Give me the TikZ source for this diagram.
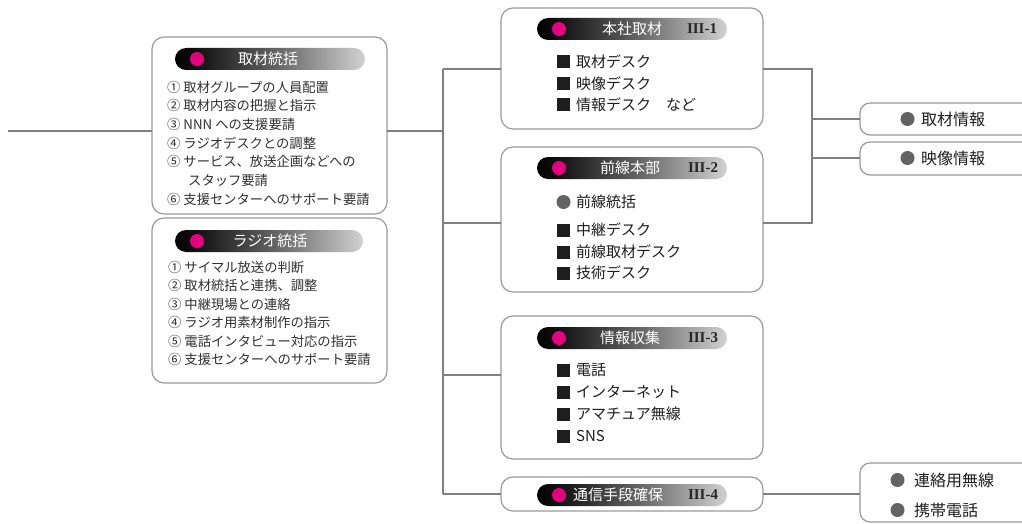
\documentclass[tikz,border=0pt]{standalone}
\usepackage{fontspec}
\newfontfamily\jp{Noto Sans CJK JP}
\newfontfamily\rmser{Liberation Serif}
\definecolor{pinkdot}{HTML}{E4007F}
\definecolor{linegray}{HTML}{808080}
\definecolor{boxgray}{HTML}{9A9A9A}
\definecolor{dotgray}{HTML}{636363}
\definecolor{sqblack}{HTML}{1E1E1E}
\definecolor{txt}{HTML}{303030}
\pgfdeclarehorizontalshading{hdrshade}{100bp}{color(0bp)=(black);color(25bp)=(black);color(33bp)=(black!90);color(52bp)=(black!60);color(75bp)=(black!18);color(100bp)=(black!18)}
\tikzset{
  conn/.style={draw=linegray, line width=2.4pt},
  panel/.style={draw=boxgray, line width=1.2pt, fill=white, rounded corners=12pt, rectangle, anchor=north west, inner sep=0pt, outer sep=0pt},
  smallpanel/.style={panel, rounded corners=10pt},
  hdr/.style={rectangle, rounded corners=11pt, shade, shading=hdrshade, minimum width=190pt, minimum height=22pt, inner sep=0pt},
  pdot/.style={circle, fill=pinkdot, minimum size=14pt, inner sep=0pt},
  hdrtxt/.style={text=white, font=\jp\fontsize{15}{17}\selectfont, inner sep=0pt},
  hdrnum/.style={text=black!85, font=\rmser\bfseries\fontsize{15}{17}\selectfont, inner sep=0pt},
  itemA/.style={anchor=west, text=txt, font=\jp\fontsize{13.3}{15}\selectfont, inner sep=0pt},
  itemB/.style={anchor=west, text=sqblack, font=\jp\fontsize{15}{17}\selectfont, inner sep=0pt},
  itemC/.style={anchor=west, text=sqblack, font=\jp\fontsize{16}{18}\selectfont, inner sep=0pt},
  sq/.style={rectangle, fill=sqblack, minimum size=13pt, inner sep=0pt},
  gdot/.style={circle, fill=dotgray, minimum size=14pt, inner sep=0pt}
}
\begin{document}
\begin{tikzpicture}[x=1pt,y=-1pt]
\useasboundingbox (0,0) rectangle (1022,524);
\clip (0,0) rectangle (1022,524);
% panels
\node[panel, minimum width=235pt, minimum height=177pt] (b1) at (152,37) {};
\node[panel, minimum width=235pt, minimum height=165pt] (b2) at (152,218) {};
\node[panel, minimum width=262pt, minimum height=121pt] (c1) at (501,8) {};
\node[panel, minimum width=262pt, minimum height=145pt] (c2) at (501,147) {};
\node[panel, minimum width=262pt, minimum height=143pt] (c3) at (501,316) {};
\node[panel, minimum width=262pt, minimum height=34pt] (c4) at (501,477) {};
\node[smallpanel, minimum width=200pt, minimum height=32pt] (r1) at (860,103) {};
\node[smallpanel, minimum width=200pt, minimum height=33pt] (r2) at (860,142) {};
\node[smallpanel, minimum width=200pt, minimum height=59pt] (r3) at (860,463) {};
% connectors
\coordinate (in) at (8,131);
\coordinate (jA) at (443,131);
\coordinate (jT) at (443,69);
\coordinate (j2) at (443,223);
\coordinate (j3) at (443,375);
\coordinate (jB) at (443,494);
\coordinate (kT) at (812,69);
\coordinate (kB) at (812,223);
\coordinate (k1) at (812,119);
\coordinate (k2) at (812,158);
\draw[conn] (in) -- (in -| b1.west);
\draw[conn] (b1.east |- jA) -- (jA);
\draw[conn] (jT) -- (jB);
\draw[conn] (jT) -- (jT -| c1.west);
\draw[conn] (j2) -- (j2 -| c2.west);
\draw[conn] (j3) -- (j3 -| c3.west);
\draw[conn] (jB) -- (jB -| c4.west);
\draw[conn] (c1.east |- kT) -- (kT) -- (kB) -- (c2.east |- kB);
\draw[conn] (k1) -- (k1 -| r1.west);
\draw[conn] (k2) -- (k2 -| r2.west);
\draw[conn] (c4.east |- jB) -- (jB -| r3.west);
% headers
\node[hdr] (h1) at (270,59) {};
\node[pdot] (h1d) at (197,59) {};
\node[hdrtxt] (h1t) at (268,59) {取材統括};
\node[hdr, minimum width=188pt] (h2) at (269,241) {};
\node[pdot] (h2d) at (197,241) {};
\node[hdrtxt] (h2t) at (270,241) {ラジオ統括};
\node[hdr] (hc1) at (632,29) {};
\node[pdot] (hc1d) at (559,29) {};
\node[hdrtxt] (hc1t) at (632,29) {本社取材};
\node[hdrnum] (hc1n) at (702,29) {III-1};
\node[hdr] (hc2) at (632,168) {};
\node[pdot] (hc2d) at (559,168) {};
\node[hdrtxt] (hc2t) at (630,168) {前線本部};
\node[hdrnum] (hc2n) at (703,168) {III-2};
\node[hdr] (hc3) at (632,338) {};
\node[pdot] (hc3d) at (559,338) {};
\node[hdrtxt] (hc3t) at (630,338) {情報収集};
\node[hdrnum] (hc3n) at (703,338) {III-3};
\node[hdr] (hc4) at (632,495) {};
\node[pdot] (hc4d) at (559,495) {};
\node[hdrtxt] (hc4t) at (618,495) {通信手段確保};
\node[hdrnum] (hc4n) at (703,495) {III-4};
% box 1 items
\foreach \y/\t [count=\i] in {87/{① 取材グループの人員配置}, 105.7/{② 取材内容の把握と指示}, 124.4/{③ NNN への支援要請}, 143/{④ ラジオデスクとの調整}, 161.7/{⑤ サービス、放送企画などへの}, 199/{⑥ 支援センターへのサポート要請}}
  \node[itemA] (b1i\i) at (167,\y) {\t};
\node[itemA] (b1x) at (188,180.4) {スタッフ要請};
% box 2 items
\foreach \y/\t [count=\i] in {267/{① サイマル放送の判断}, 285.5/{② 取材統括と連携、調整}, 304/{③ 中継現場との連絡}, 322.5/{④ ラジオ用素材制作の指示}, 341/{⑤ 電話インタビュー対応の指示}, 359.5/{⑥ 支援センターへのサポート要請}}
  \node[itemA] (b2i\i) at (168,\y) {\t};
% III-1 items
\foreach \y/\t [count=\i] in {62/{取材デスク}, 83.5/{映像デスク}, 105/{情報デスク　など}} {
  \node[sq] (c1s\i) at (563.5,\y) {};
  \node[itemB] (c1i\i) at (576,\y) {\t};
}
% III-2 items
\node[gdot] (c2d) at (563.5,202) {};
\node[itemB] (c2i0) at (576,202) {前線統括};
\foreach \y/\t [count=\i] in {230/{中継デスク}, 252/{前線取材デスク}, 273/{技術デスク}} {
  \node[sq] (c2s\i) at (563.5,\y) {};
  \node[itemB] (c2i\i) at (576,\y) {\t};
}
% III-3 items
\foreach \y/\t [count=\i] in {370/{電話}, 392/{インターネット}, 414/{アマチュア無線}, 436/{SNS}} {
  \node[sq] (c3s\i) at (563.5,\y) {};
  \node[itemB] (c3i\i) at (576,\y) {\t};
}
% right items
\node[gdot] (r1d) at (907.5,119) {};
\node[itemC] (r1t) at (921,119) {取材情報};
\node[gdot] (r2d) at (907.5,158) {};
\node[itemC] (r2t) at (921,158) {映像情報};
\node[gdot] (r3d1) at (897.5,480) {};
\node[itemC] (r3t1) at (914,480) {連絡用無線};
\node[gdot] (r3d2) at (897.5,510) {};
\node[itemC] (r3t2) at (914,510) {携帯電話};
\end{tikzpicture}
\end{document}
